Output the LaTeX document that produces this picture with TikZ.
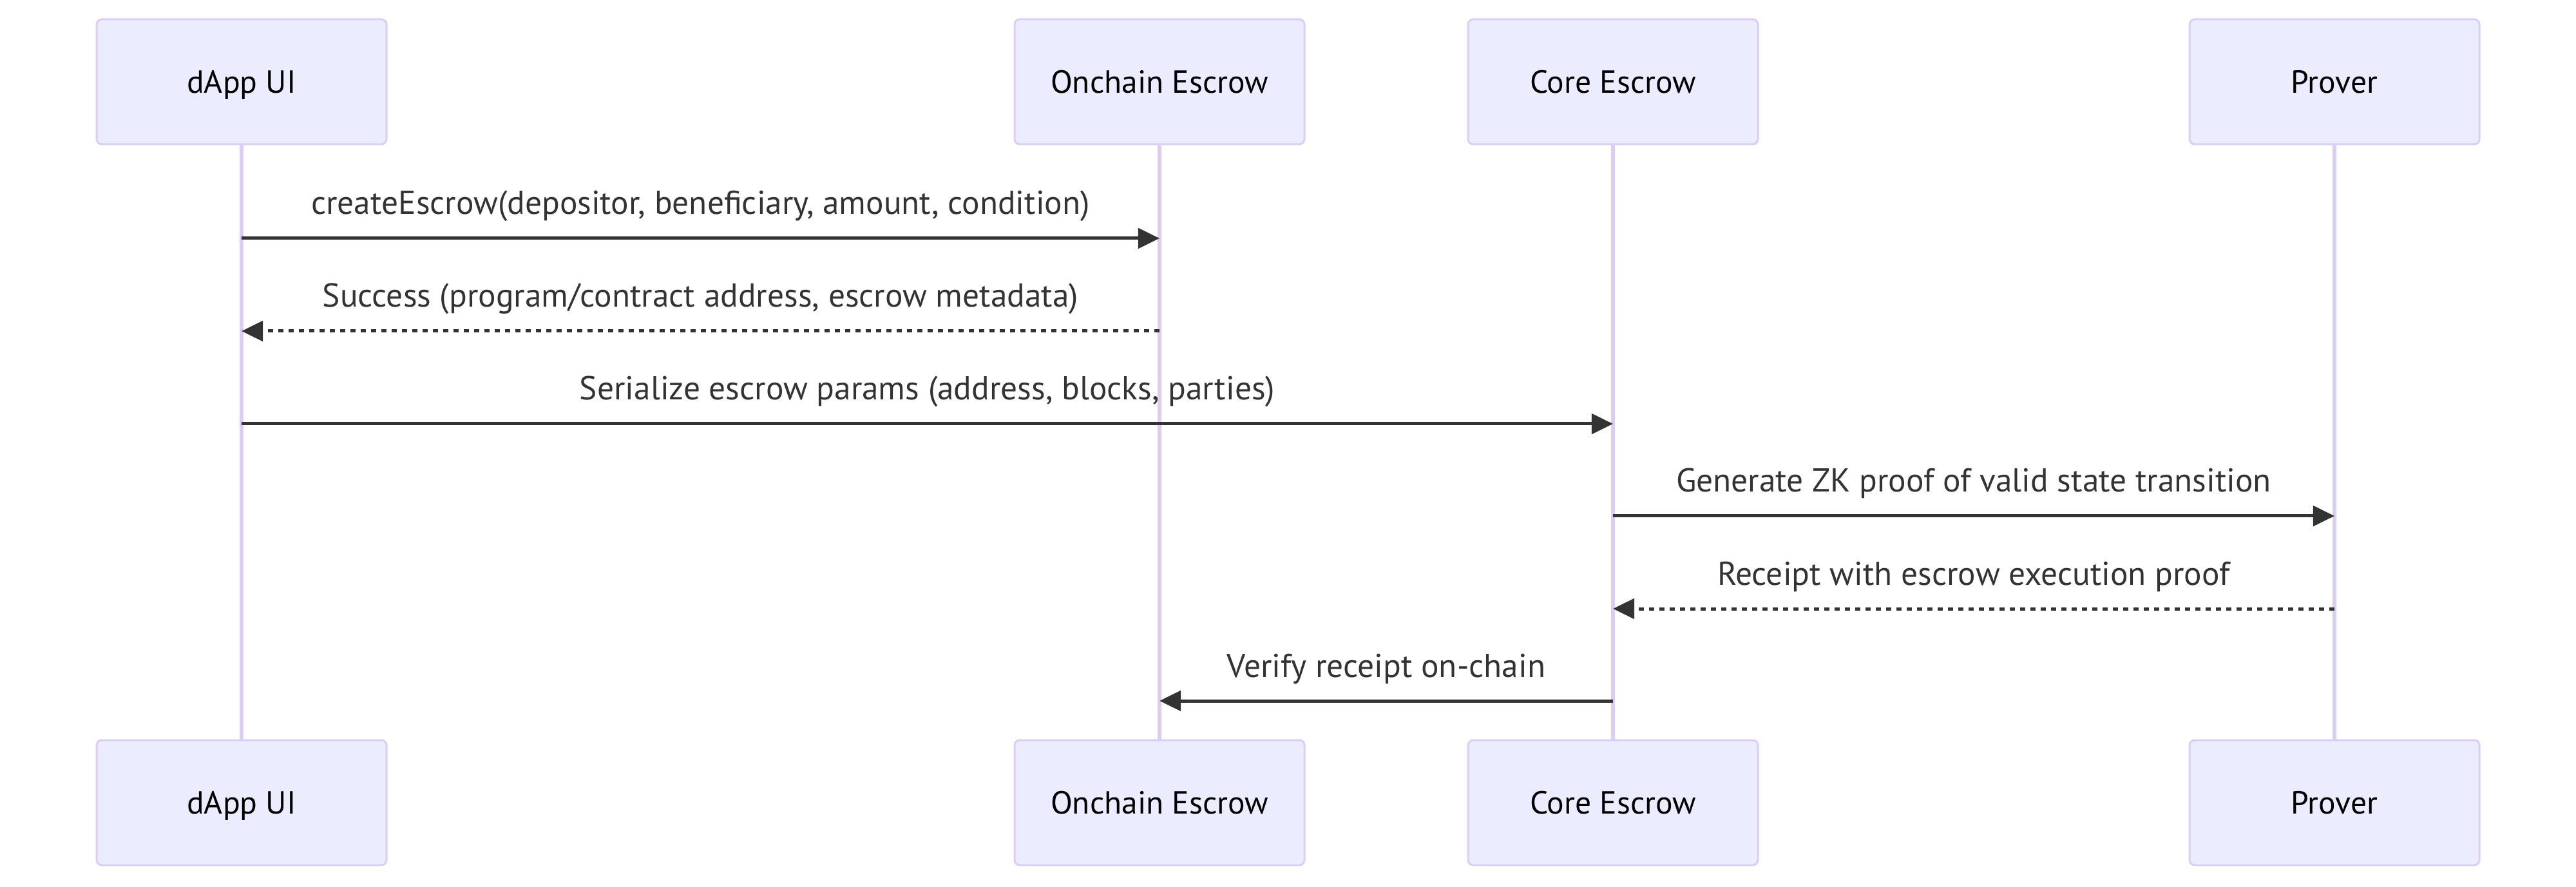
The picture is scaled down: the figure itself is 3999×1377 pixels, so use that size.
\documentclass[tikz,border=0pt]{standalone}
\usepackage{fontspec}
\setmainfont{PT Sans}
\usetikzlibrary{arrows.meta}
\definecolor{actfill}{HTML}{ECECFF}
\definecolor{actline}{HTML}{DACEF3}
\definecolor{msg}{HTML}{333333}
\tikzset{
  actor/.style={draw=actline, line width=0.75pt, fill=actfill, rounded corners=2pt,
    minimum width=112.5pt, minimum height=48.5pt, inner sep=0pt,
    text height=8.7pt, text depth=0pt, font=\fontsize{12.4pt}{14pt}\selectfont, text=black},
  life/.style={draw=actline, line width=1.3pt},
  msgline/.style={draw=msg, line width=1.25pt, -{Triangle[length=8.3pt,width=7.8pt]}},
  reply/.style={msgline, dash pattern=on 2pt off 2pt},
  lbl/.style={anchor=base, yshift=9.25pt, font=\fontsize{12.85pt}{14pt}\selectfont, text=msg, inner sep=0pt}
}
\begin{document}
\begin{tikzpicture}[x=0.25pt,y=-0.25pt]
\useasboundingbox (0,0) rectangle (3999,1377);
% actors top
\node[actor] (ut) at (375,127) {dApp UI};
\node[actor] (ot) at (1800,127) {Onchain Escrow};
\node[actor] (ct) at (2504,127) {Core Escrow};
\node[actor] (pt) at (3624,127) {Prover};
% actors bottom
\node[actor] (ub) at (375,1246) {dApp UI};
\node[actor] (ob) at (1800,1246) {Onchain Escrow};
\node[actor] (cb) at (2504,1246) {Core Escrow};
\node[actor] (pb) at (3624,1246) {Prover};
% lifelines
\draw[life] (ut.south) -- (ub.north);
\draw[life] (ot.south) -- (ob.north);
\draw[life] (ct.south) -- (cb.north);
\draw[life] (pt.south) -- (pb.north);
% message anchor points
\coordinate (u1) at (375,370);  \coordinate (o1) at (1800,370);
\coordinate (u2) at (375,514);  \coordinate (o2) at (1800,514);
\coordinate (u3) at (375,658);  \coordinate (c3) at (2504,658);
\coordinate (c4) at (2504,801); \coordinate (p4) at (3624,801);
\coordinate (c5) at (2504,945); \coordinate (p5) at (3624,945);
\coordinate (c6) at (2504,1088); \coordinate (o6) at (1800,1088);
% messages
\draw[msgline] (u1) -- (o1) node[lbl, midway] {createEscrow(depositor, beneficiary, amount, condition)};
\draw[reply] (o2) -- (u2) node[lbl, midway] {Success (program/contract address, escrow metadata)};
\draw[msgline] (u3) -- (c3) node[lbl, midway] {Serialize escrow params (address, blocks, parties)};
\draw[msgline] (c4) -- (p4) node[lbl, midway] {Generate ZK proof of valid state transition};
\draw[reply] (p5) -- (c5) node[lbl, midway] {Receipt with escrow execution proof};
\draw[msgline] (c6) -- (o6) node[lbl, midway] {Verify receipt on-chain};
\end{tikzpicture}
\end{document}
